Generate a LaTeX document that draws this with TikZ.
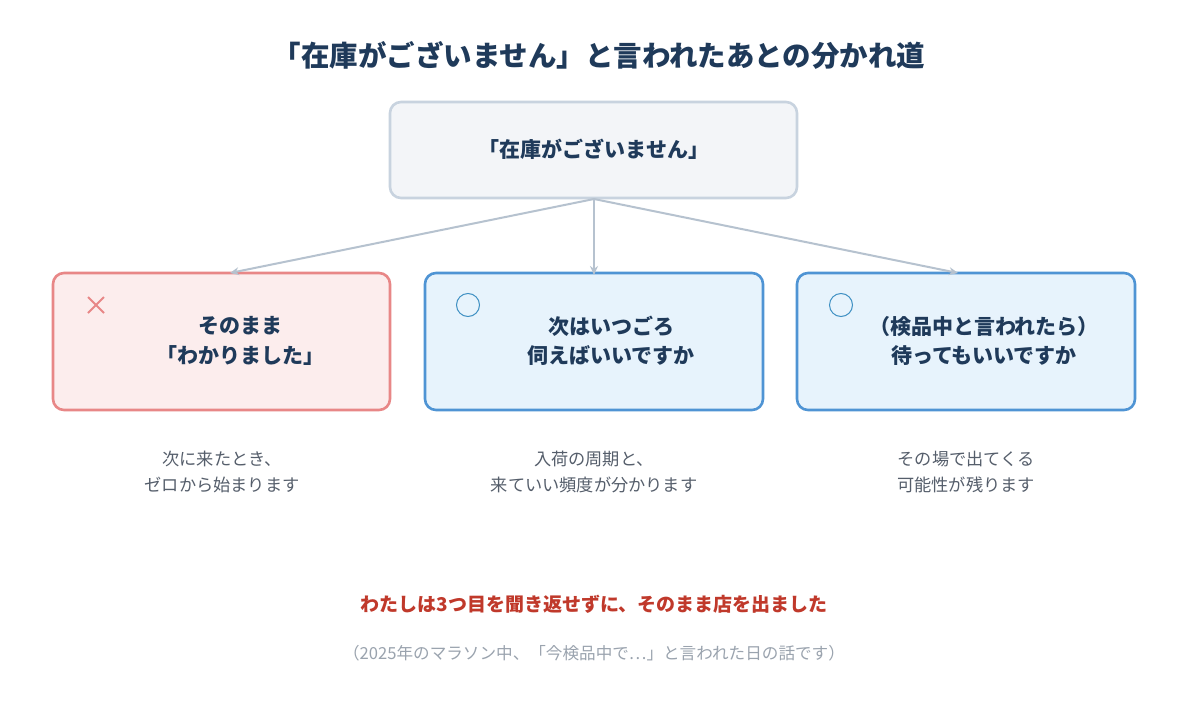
\documentclass[tikz,border=0pt]{standalone}
\usepackage{fontspec}
\setmainfont{Noto Sans CJK JP}
\usetikzlibrary{arrows.meta}
\definecolor{navy}{HTML}{1F3A5A}
\definecolor{topfill}{HTML}{F3F5F8}
\definecolor{topline}{HTML}{C8D3DF}
\definecolor{redfill}{HTML}{FCEDED}
\definecolor{redline}{HTML}{E88787}
\definecolor{bluefill}{HTML}{E7F3FC}
\definecolor{blueline}{HTML}{4F94D4}
\definecolor{arrowc}{HTML}{B6C2CF}
\definecolor{capc}{HTML}{555E6B}
\definecolor{emph}{HTML}{C0392B}
\definecolor{notec}{HTML}{9AA3AE}
\begin{document}
\begin{tikzpicture}[x=1pt,y=-1pt,
 box/.style={draw,line width=2.6pt,rounded corners=11pt,inner sep=0},
 btxt/.style={font=\fontsize{21}{29.5}\selectfont\bfseries,text=navy,align=center},
 captxt/.style={font=\fontsize{17.2}{25.5}\selectfont,text=capc,align=center},
 arr/.style={draw=arrowc,line width=2pt,-{Stealth[length=9pt,width=8pt]}}]
\useasboundingbox (0,0) rectangle (1187,707);
\fill[white] (0,0) rectangle (1187,707);
\node[font=\fontsize{28.5}{32}\selectfont\bfseries,text=navy] (title) at (599,55) {「在庫がございません」と言われたあとの分かれ道};
\draw[box,draw=topline,fill=topfill] (390,102) rectangle (797,198);
\node[btxt] (top) at (594,149) {「在庫がございません」};
\coordinate (src) at (594,199);
\draw[box,draw=redline,fill=redfill] (53,273) rectangle (390,410);
\draw[box,draw=blueline,fill=bluefill] (425,273) rectangle (763,410);
\draw[box,draw=blueline,fill=bluefill] (797,273) rectangle (1135,410);
\coordinate (tA) at (230,273);
\coordinate (tB) at (594,275);
\coordinate (tC) at (958,273);
\draw[arr] (src) -- (tA);
\draw[arr] (src) -- (tB);
\draw[arr] (src) -- (tC);
\draw[redline,line width=2pt] (88,297) -- (104,313) (88,313) -- (104,297);
\draw[blueline!80!teal,line width=1pt] (468,305) circle (11.5);
\draw[blueline!80!teal,line width=1pt] (841,305) circle (11.5);
\node[btxt] (a) at (240,341) {そのまま\\「わかりました」};
\node[btxt] (b) at (611,341) {次はいつごろ\\伺えばいいですか};
\node[btxt] (c) at (984,341) {（検品中と言われたら）\\待ってもいいですか};
\node[captxt] (ca) at (222,472) {次に来たとき、\\ゼロから始まります};
\node[captxt] (cb) at (594,472) {入荷の周期と、\\来ていい頻度が分かります};
\node[captxt] (cc) at (966,472) {その場で出てくる\\可能性が残ります};
\node[font=\fontsize{19}{22}\selectfont\bfseries,text=emph] (m) at (594,604) {わたしは3つ目を聞き返せずに、そのまま店を出ました};
\node[font=\fontsize{16.6}{20}\selectfont,text=notec] (n) at (594,653) {（2025年のマラソン中、「今検品中で…」と言われた日の話です）};
\end{tikzpicture}
\end{document}
